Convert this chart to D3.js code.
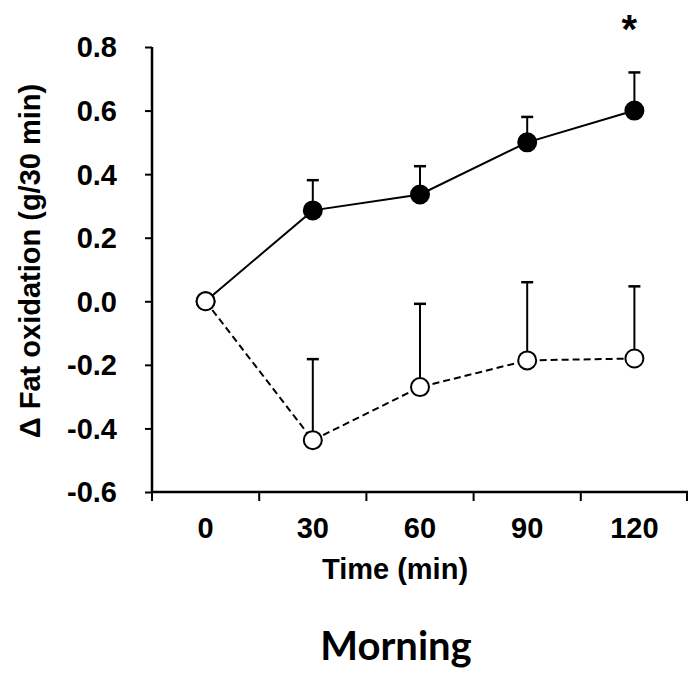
<!DOCTYPE html>
<html>
<head>
<meta charset="utf-8">
<script src="https://cdn.jsdelivr.net/npm/d3@7"></script>
<style>
  html, body { margin: 0; padding: 0; background: #fff; }
  svg { display: block; }
</style>
</head>
<body>
<script>
// ---- data ----
const times = ["0", "30", "60", "90", "120"];
const filledMean = [0, 0.286, 0.336, 0.50, 0.60];
const filledErr  = [0, 0.095, 0.089, 0.08, 0.12];
const openMean   = [0, -0.437, -0.27, -0.186, -0.18];
const openErr    = [0, 0.255, 0.262, 0.246, 0.227];
const yTicks = [-0.6, -0.4, -0.2, 0.0, 0.2, 0.4, 0.6, 0.8];
const sigIndex = ["120"];

const W = 688, H = 676;
const svg = d3.select("body").append("svg").attr("width", W).attr("height", H);

const x = d3.scaleBand().domain(times).range([152, 688]).padding(0);
const y = d3.scaleLinear().domain([-0.6, 0.8]).range([492, 47]);
const cx = d => x(d) + x.bandwidth() / 2;

const font = "'Liberation Sans', Arial, sans-serif";
const fs = 29;
const fmt = v => d3.format(".1f")(v).replace("\u2212", "-");

// axes
const gy = svg.append("g").attr("transform", "translate(152,0)")
  .call(d3.axisLeft(y).tickValues(yTicks).tickSize(7).tickPadding(8).tickFormat(fmt));
gy.select(".domain").attr("stroke", "#000").attr("stroke-width", 2.5).attr("d", "M0,47V492");
gy.selectAll(".tick line").attr("stroke", "#000").attr("stroke-width", 2);
gy.selectAll(".tick text").attr("font-family", font).attr("font-weight", "bold")
  .attr("font-size", fs).attr("fill", "#000").attr("x", -35).attr("dy", "0.34em");

const gx = svg.append("g").attr("transform", "translate(0,492)");
gx.append("line").attr("x1", 152).attr("x2", 688).attr("y1", 0).attr("y2", 0)
  .attr("stroke", "#000").attr("stroke-width", 2.5);
const bounds = times.map(t => x(t)).concat([x(times[times.length - 1]) + x.bandwidth() - 1]);
gx.selectAll("line.tk").data(bounds).enter().append("line").attr("class", "tk")
  .attr("x1", d => d).attr("x2", d => d).attr("y1", 0).attr("y2", 9)
  .attr("stroke", "#000").attr("stroke-width", 2);
gx.selectAll("text.tl").data(times).enter().append("text").attr("class", "tl")
  .attr("x", d => cx(d)).attr("y", 46).attr("text-anchor", "middle")
  .attr("font-family", font).attr("font-weight", "bold").attr("font-size", fs)
  .text(d => d);

// axis titles
svg.append("text").attr("x", 395).attr("y", 579).attr("text-anchor", "middle")
  .attr("font-family", font).attr("font-weight", "bold").attr("font-size", fs)
  .text("Time (min)");
svg.append("text").attr("transform", "translate(40,261) rotate(-90)").attr("text-anchor", "middle")
  .attr("font-family", font).attr("font-weight", "bold").attr("font-size", fs)
  .text("Δ Fat oxidation (g/30 min)");
svg.append("text").attr("x", 396).attr("y", 660).attr("text-anchor", "middle")
  .attr("font-family", "Lato, 'Open Sans', sans-serif").attr("font-weight", "bold").attr("font-size", 40)
  .text("Morning");

// series
const line = d3.line().x(d => cx(d.t)).y(d => y(d.v));
function drawSeries(means, errs, fill, dash) {
  const data = times.map((t, i) => ({ t, v: means[i], e: errs[i] }));
  const g = svg.append("g");
  const eb = data.filter(d => d.e > 0);
  g.selectAll("line.eb").data(eb).enter().append("line")
    .attr("x1", d => cx(d.t)).attr("x2", d => cx(d.t))
    .attr("y1", d => y(d.v)).attr("y2", d => y(d.v + d.e))
    .attr("stroke", "#000").attr("stroke-width", 2);
  g.selectAll("line.cap").data(eb).enter().append("line")
    .attr("x1", d => cx(d.t) - 6).attr("x2", d => cx(d.t) + 6)
    .attr("y1", d => y(d.v + d.e)).attr("y2", d => y(d.v + d.e))
    .attr("stroke", "#000").attr("stroke-width", 2.5);
  g.append("path").datum(data).attr("d", line).attr("fill", "none")
    .attr("stroke", "#000").attr("stroke-width", 2)
    .attr("stroke-dasharray", dash || null);
  g.selectAll("circle").data(data).enter().append("circle")
    .attr("cx", d => cx(d.t)).attr("cy", d => y(d.v)).attr("r", 9)
    .attr("fill", fill).attr("stroke", "#000").attr("stroke-width", 2);
}
drawSeries(filledMean, filledErr, "#000", null);
drawSeries(openMean, openErr, "#fff", "7,4");

// significance
svg.selectAll("text.sig").data(sigIndex).enter().append("text").attr("class", "sig")
  .attr("x", d => cx(d) - 5).attr("y", 43).attr("text-anchor", "middle")
  .attr("font-family", font).attr("font-weight", "bold").attr("font-size", 40)
  .text("*");
</script>
</body>
</html>
